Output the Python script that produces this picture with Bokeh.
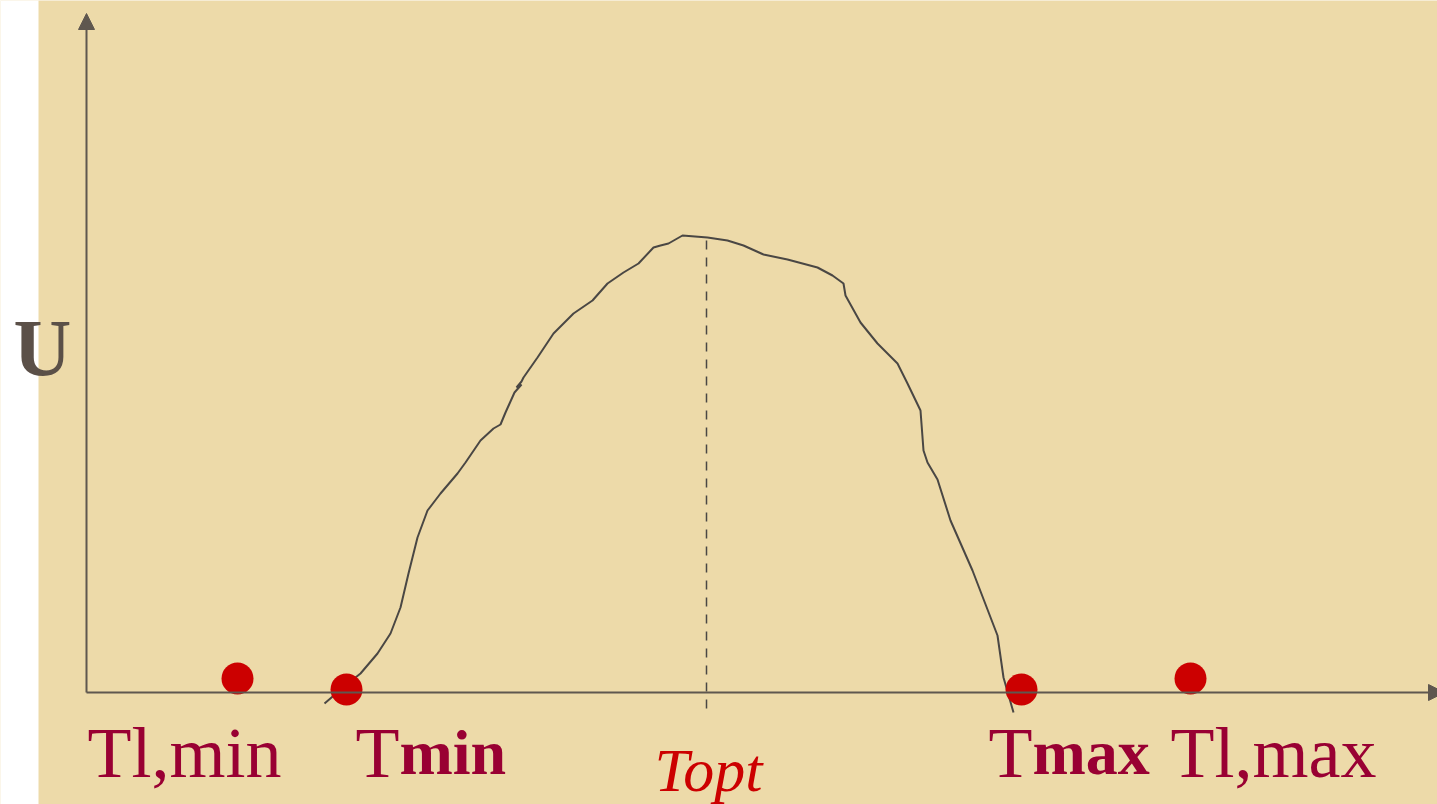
from bokeh.plotting import figure
from bokeh.models import Range1d, Arrow, NormalHead
from bokeh.core.properties import value
from bokeh.embed import file_html
from bokeh.resources import INLINE

# Temperature (t) vs. growth / activity (U) -- schematic units, origin at axis crossing
curve_t = [238, 259, 274, 291, 304, 314, 322, 331, 341, 354, 371, 379, 394, 407,
           414, 419, 428, 435, 430, 435, 437, 451, 467, 487, 506, 521, 537, 552,
           567, 574, 582, 596, 621, 641, 657, 677, 701, 731, 746, 757, 759, 774,
           791, 811, 821, 834, 837, 841, 851, 864, 886, 911, 917, 927]
curve_u = [-11, 7, 19, 39, 59, 85, 119, 155, 182, 199, 219, 230, 252, 264,
           268, 280, 300, 308, 305, 311, 315, 335, 359, 379, 392, 409, 420, 429,
           445, 447, 449, 457, 455, 452, 447, 438, 433, 425, 417, 409, 397, 370,
           349, 329, 309, 282, 242, 230, 213, 172, 122, 57, 15, -20]

# Optimum temperature marker
t_opt = 620
u_opt_top = 455
u_opt_bottom = -16

# Critical temperatures on the t axis
point_names = ["Tl,min", "Tmin", "Tmax", "Tl,max"]
point_t = [151, 260, 935, 1104]
point_u = [14, 3, 3, 14]

AXIS_COLOR = "#5f574f"
CURVE_COLOR = "#4a4744"
LABEL_COLOR = "#990033"
RED = "#cc0000"
SERIF = value("Liberation Serif")

p = figure(width=1437, height=804, output_backend="svg", toolbar_location=None,
           x_range=Range1d(-86, 1351), y_range=Range1d(-112, 692),
           min_border=0, min_border_left=0, min_border_right=0,
           min_border_top=0, min_border_bottom=0)
p.axis.visible = False
p.grid.visible = False
p.outline_line_color = None
p.background_fill_color = "#EDDAA9"
p.border_fill_color = "white"

# white margin strip on the left
p.quad(left=[-90], right=[-48], bottom=[-120], top=[700],
       fill_color="white", line_color=None)

# axes with arrow heads
p.add_layout(Arrow(end=NormalHead(size=16, fill_color=AXIS_COLOR, line_color=AXIS_COLOR),
                   x_start=0, y_start=0, x_end=0, y_end=679,
                   line_color=AXIS_COLOR, line_width=2))
p.add_layout(Arrow(end=NormalHead(size=16, fill_color=AXIS_COLOR, line_color=AXIS_COLOR),
                   x_start=0, y_start=0, x_end=1358, y_end=0,
                   line_color=AXIS_COLOR, line_width=2))

# dashed optimum line
p.line(x=[t_opt, t_opt], y=[u_opt_bottom, u_opt_top], line_color=CURVE_COLOR,
       line_width=1.5, line_dash="9 8")

# response curve
p.line(x=curve_t, y=curve_u, line_color=CURVE_COLOR, line_width=2)

# critical points
p.scatter(x=point_t, y=point_u, size=32, marker="circle",
          fill_color=RED, line_color=None)

# axis label
p.text(x=[-73], y=[345], text=["U"], text_font=SERIF, text_font_size="80px",
       text_font_style="bold", text_color="#5b5048", text_baseline="alphabetic")

# labels under the axis
lab_u = -60
p.text(x=[1], y=[lab_u], text=["Tl,min"], text_font=SERIF, text_font_size="72px",
       text_color=LABEL_COLOR, text_baseline="alphabetic")
p.text(x=[269], y=[lab_u], text=["T"], text_font=SERIF, text_font_size="72px",
       text_color=LABEL_COLOR, text_baseline="alphabetic")
p.text(x=[313], y=[lab_u], text=["min"], text_font=SERIF, text_font_size="64px",
       text_font_style="bold", text_color=LABEL_COLOR, text_baseline="alphabetic")
p.text(x=[902], y=[lab_u], text=["T"], text_font=SERIF, text_font_size="72px",
       text_color=LABEL_COLOR, text_baseline="alphabetic")
p.text(x=[946], y=[lab_u], text=["max"], text_font=SERIF, text_font_size="64px",
       text_font_style="bold", text_color=LABEL_COLOR, text_baseline="alphabetic")
p.text(x=[1084], y=[lab_u], text=["Tl,max"], text_font=SERIF, text_font_size="72px",
       text_color=LABEL_COLOR, text_baseline="alphabetic")
p.text(x=[568], y=[-77], text=["Topt"], text_font=SERIF, text_font_size="62px",
       text_font_style="italic", text_color=RED, text_baseline="alphabetic")

open("out.html", "w").write(file_html(p, INLINE))
